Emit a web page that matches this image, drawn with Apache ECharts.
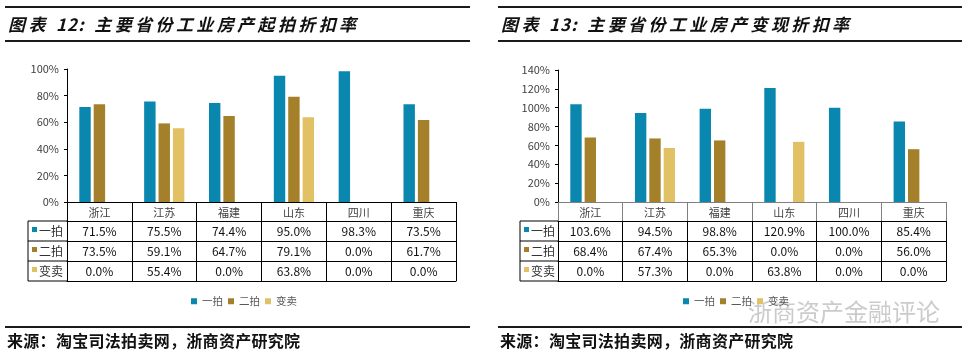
<!DOCTYPE html>
<html>
<head>
<meta charset="utf-8">
<script src="https://cdn.jsdelivr.net/npm/echarts@6/dist/echarts.min.js"></script>
<style>
  body { margin: 0; background: #fff; }
  #wrap { position: relative; width: 970px; height: 353px; overflow: hidden; font-family: "Noto Sans CJK SC", sans-serif; }
  #chart { position: absolute; left: 0; top: 0; width: 970px; height: 353px; }
  .rule { position: absolute; height: 0; border-top: 2px solid #1a1a1a; }
  .ttl { position: absolute; top: 11px; font-size: 17px; font-weight: bold; font-style: italic; letter-spacing: 3.4px; color: #111; white-space: pre; }
  .ttl .n { letter-spacing: 1px; }
  .src { position: absolute; top: 328px; font-size: 16px; font-weight: bold; letter-spacing: 0.3px; color: #111; white-space: nowrap; }
</style>
</head>
<body>
<div id="wrap">
  <div id="chart"></div>
  <div class="rule" style="left:5px;width:465px;top:6px"></div>
  <div class="rule" style="left:5px;width:465px;top:40px"></div>
  <div class="ttl" style="left:8px">图表 <span class="n">12</span>: 主要省份工业房产起拍折扣率</div>
  <div class="rule" style="left:498px;width:464px;top:6px"></div>
  <div class="rule" style="left:498px;width:464px;top:40px"></div>
  <div class="ttl" style="left:501px">图表 <span class="n">13</span>: 主要省份工业房产变现折扣率</div>
  <div class="rule" style="left:5px;width:465px;top:326px"></div>
  <div class="src" style="left:7px">来源：淘宝司法拍卖网，浙商资产研究院</div>
  <div class="rule" style="left:498px;width:464px;top:326px"></div>
  <div class="src" style="left:500px">来源：淘宝司法拍卖网，浙商资产研究院</div>
</div>
<script>
// 省份
var categories = ['浙江', '江苏', '福建', '山东', '四川', '重庆'];
var seriesNames = ['一拍', '二拍', '变卖'];
// 起拍折扣率(%)
var startFirst = [71.5, 75.5, 74.4, 95.0, 98.3, 73.5];
var startSecond = [73.5, 59.1, 64.7, 79.1, 0.0, 61.7];
var startSale = [0.0, 55.4, 0.0, 63.8, 0.0, 0.0];
// 变现折扣率(%)
var realFirst = [103.6, 94.5, 98.8, 120.9, 100.0, 85.4];
var realSecond = [68.4, 67.4, 65.3, 0.0, 0.0, 56.0];
var realSale = [0.0, 57.3, 0.0, 63.8, 0.0, 0.0];
// y轴刻度
var startTicks = [0, 20, 40, 60, 80, 100];
var realTicks = [0, 20, 40, 60, 80, 100, 120, 140];

var colors = ['#0a87ae', '#a4802a', '#e2c165'];
var font = '"Noto Sans CJK SC", sans-serif';
var axisY = 202;               // x轴所在位置
var rowOffsets = [0, 19, 39, 59, 79];

var panels = [
  { rows: [startFirst, startSecond, startSale], ticks: startTicks, gridLeft: 67, gridRight: 456, gridTop: 69, tableLeft: 28, legendLeft: 186, headColor: '#000' },
  { rows: [realFirst, realSecond, realSale], ticks: realTicks, gridLeft: 558, gridRight: 946, gridTop: 70, tableLeft: 520, legendLeft: 678, headColor: '#808080' }
];

var grid = [], xAxis = [], yAxis = [], series = [], legend = [], graphic = [];

panels.forEach(function (p, i) {
  grid.push({ left: p.gridLeft, width: p.gridRight - p.gridLeft, top: p.gridTop, height: axisY - p.gridTop });

  // 表头（省份）
  xAxis.push({
    type: 'category', gridIndex: i, data: categories, position: 'bottom', offset: 0,
    axisLine: { lineStyle: { color: p.headColor, width: 1 } },
    axisTick: { show: true, interval: 0, length: rowOffsets[1], lineStyle: { color: p.headColor } },
    axisLabel: { interval: 0, margin: 5, fontSize: 11, color: '#404040', fontFamily: font }
  });
  // 数据行
  p.rows.forEach(function (row, r) {
    xAxis.push({
      type: 'category', gridIndex: i, data: categories, position: 'bottom', offset: rowOffsets[r + 1],
      axisLine: { lineStyle: { color: '#000', width: 1 } },
      axisTick: { show: true, interval: 0, length: rowOffsets[r + 2] - rowOffsets[r + 1], lineStyle: { color: '#000' } },
      axisLabel: {
        interval: 0, margin: 4, fontSize: 12, color: '#111', fontFamily: font,
        formatter: function (v, idx) { return row[idx].toFixed(1) + '%'; }
      }
    });
  });
  // 表格底线
  xAxis.push({
    type: 'category', gridIndex: i, data: categories, position: 'bottom', offset: rowOffsets[4],
    axisLine: { lineStyle: { color: '#000', width: 1 } },
    axisTick: { show: false }, axisLabel: { show: false }
  });

  var t = p.ticks;
  yAxis.push({
    type: 'value', gridIndex: i, min: t[0], max: t[t.length - 1], interval: t[1] - t[0],
    axisLine: { show: true, lineStyle: { color: '#000' } },
    axisTick: { show: true, length: 3, lineStyle: { color: '#000' } },
    splitLine: { show: false },
    axisLabel: { formatter: '{value}%', fontSize: 11, color: '#404040', margin: 8, fontFamily: font }
  });

  p.rows.forEach(function (row, r) {
    series.push({
      type: 'bar', name: seriesNames[r], xAxisIndex: i * 5, yAxisIndex: i, data: row,
      barGap: '26%', barCategoryGap: '38%',
      itemStyle: { color: colors[r] }
    });
  });

  legend.push({
    data: seriesNames, left: p.legendLeft, top: 291, icon: 'rect',
    itemWidth: 6, itemHeight: 6, itemGap: 5,
    textStyle: { fontSize: 10.5, color: '#595959', fontFamily: font }
  });

  // 表格左侧图例列
  for (var k = 1; k < rowOffsets.length; k++) {
    var y = axisY + rowOffsets[k];
    graphic.push({ type: 'line', shape: { x1: p.tableLeft, y1: y, x2: p.gridLeft, y2: y }, style: { stroke: '#000', lineWidth: 1 } });
  }
  graphic.push({ type: 'line', shape: { x1: p.tableLeft, y1: axisY + rowOffsets[1], x2: p.tableLeft, y2: axisY + rowOffsets[4] }, style: { stroke: '#000', lineWidth: 1 } });
  seriesNames.forEach(function (name, r) {
    var mid = axisY + (rowOffsets[r + 1] + rowOffsets[r + 2]) / 2;
    graphic.push({ type: 'rect', shape: { x: p.tableLeft + 4, y: mid - 4, width: 5, height: 5 }, style: { fill: colors[r] } });
    graphic.push({ type: 'text', x: p.tableLeft + 11, y: mid, style: { text: name, fill: '#333', font: '12px ' + font, verticalAlign: 'middle' } });
  });
});

// 水印
graphic.push({ type: 'text', x: 748, y: 312, style: { text: '浙商资产金融评论', font: '24px ' + font, fill: 'rgba(140,140,140,0.45)', verticalAlign: 'middle' } });

var chart = echarts.init(document.getElementById('chart'));
chart.setOption({
  backgroundColor: '#fff',
  animation: false,
  grid: grid,
  xAxis: xAxis,
  yAxis: yAxis,
  legend: legend,
  series: series,
  graphic: graphic
});
</script>
</body>
</html>
